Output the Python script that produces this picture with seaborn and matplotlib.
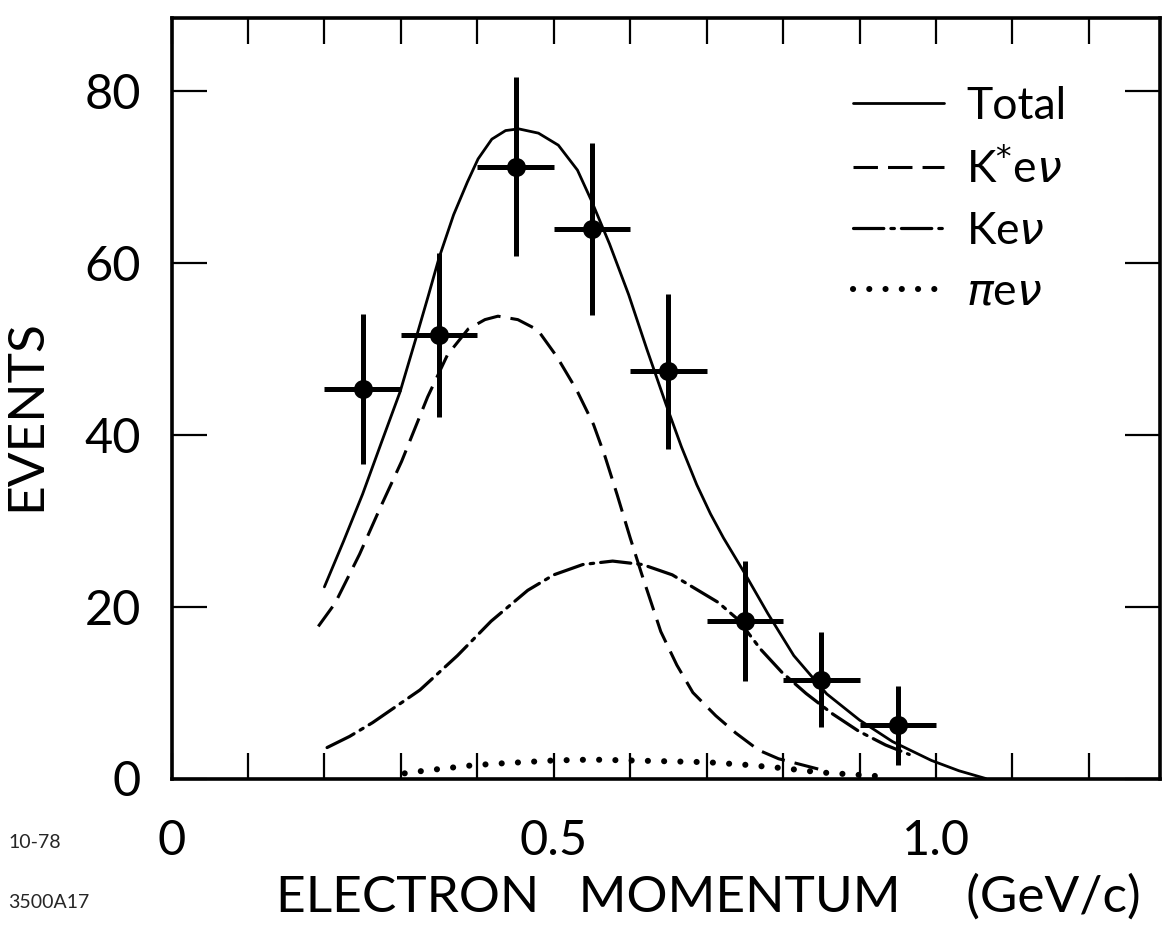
import numpy as np
import pandas as pd
import matplotlib
matplotlib.use("Agg")
import matplotlib.pyplot as plt
import seaborn as sns

# Measured electron momentum spectrum (bin centres, counts, errors)
p_centres = [0.25, 0.35, 0.45, 0.55, 0.65, 0.75, 0.85, 0.95]
events = [45.3, 51.6, 71.2, 63.9, 47.4, 18.3, 11.5, 6.2]
events_err = [8.7, 9.5, 10.4, 10.0, 9.0, 7.0, 5.5, 4.6]
bin_half_width = [0.05] * 8

# Fitted components
total_p = [0.20, 0.225, 0.25, 0.275, 0.299, 0.32, 0.336, 0.35, 0.369, 0.387,
           0.401, 0.419, 0.437, 0.454, 0.48, 0.506, 0.531, 0.549, 0.573, 0.598,
           0.622, 0.647, 0.667, 0.687, 0.705, 0.722, 0.749, 0.780, 0.814, 0.857,
           0.90, 0.943, 0.994, 1.03, 1.065]
total_n = [22.3, 27.6, 33.1, 39.2, 45.0, 51.3, 56.2, 60.6, 65.6, 69.4,
           72.1, 74.4, 75.4, 75.6, 75.1, 73.7, 70.8, 67.3, 62.2, 56.3,
           49.9, 43.5, 38.6, 34.2, 30.8, 28.0, 24.0, 19.2, 14.3, 9.85,
           6.8, 4.3, 2.1, 0.9, 0.0]

kstar_p = [0.192, 0.214, 0.246, 0.273, 0.301, 0.335, 0.361, 0.388, 0.41, 0.427,
           0.453, 0.479, 0.504, 0.530, 0.552, 0.567, 0.583, 0.60, 0.615, 0.640,
           0.661, 0.682, 0.712, 0.738, 0.768, 0.794, 0.846]
kstar_n = [17.7, 20.4, 26.1, 31.5, 36.9, 44.4, 49.3, 52.3, 53.4, 53.8,
           53.4, 52.2, 49.1, 45.2, 41.2, 37.5, 33.0, 28.0, 23.8, 17.1,
           13.2, 10.0, 7.3, 5.3, 3.3, 2.3, 1.1]

k_p = [0.2035, 0.233, 0.263, 0.325, 0.374, 0.418, 0.466, 0.50, 0.538, 0.577,
       0.616, 0.655, 0.685, 0.715, 0.741, 0.771, 0.798, 0.830, 0.865, 0.899,
       0.934, 0.965]
k_n = [3.6, 4.9, 6.5, 10.3, 14.3, 18.3, 21.9, 23.7, 24.9, 25.3,
       24.9, 23.7, 22.1, 20.5, 18.5, 15.0, 12.4, 9.9, 7.5, 5.5,
       3.9, 2.8]

pi_p = [0.305, 0.33, 0.36, 0.39, 0.42, 0.46, 0.50, 0.55, 0.60, 0.65, 0.70,
        0.75, 0.80, 0.85, 0.92]
pi_n = [0.6, 0.9, 1.2, 1.5, 1.7, 1.9, 2.1, 2.2, 2.1, 2.0, 1.9,
        1.6, 1.2, 0.7, 0.3]

x_tick_values = [round(0.1 * i, 1) for i in range(13)]
x_tick_text = {0.0: "0", 0.5: "0.5", 1.0: "1.0"}
y_tick_values = [0, 20, 40, 60, 80]

sns.set_theme(style="ticks")
plt.rcParams["font.family"] = ["Lato", "DejaVu Sans"]
plt.rcParams["font.weight"] = "normal"
plt.rcParams["mathtext.fontset"] = "dejavusans"

W, H = 1165, 927
fig = plt.figure(figsize=(W / 100, H / 100), dpi=100, facecolor="white")
left, right, top, bottom = 171.5, 1160.0, 18.0, 778.5
ax = fig.add_axes([left / W, 1 - bottom / H, (right - left) / W, (bottom - top) / H])
ax.set_facecolor("white")

components = [
    (total_p, total_n, "Total", dict(lw=2.0, linestyle="-")),
    (kstar_p, kstar_n, r"K$^{*}$e$\nu$", dict(lw=2.2, linestyle=(0, (8, 3.3)))),
    (k_p, k_n, r"Ke$\nu$", dict(lw=2.3, linestyle=(0, (9.5, 2.2, 1.1, 2.2)),
                                dash_capstyle="round")),
    (pi_p, pi_n, r"$\pi$e$\nu$", dict(lw=4.4, linestyle=(0, (0.01, 2.65)),
                                       dash_capstyle="round")),
]
for xs, ys, name, style in components:
    df = pd.DataFrame({"p": xs, "n": ys})
    sns.lineplot(data=df, x="p", y="n", ax=ax, color="black", label=name,
                 sort=False, errorbar=None, **style)

data = pd.DataFrame({"p": p_centres, "n": events})
ax.errorbar(p_centres, events, yerr=events_err, xerr=bin_half_width, fmt="none",
            ecolor="black", elinewidth=3.6, capsize=0, zorder=4)
sns.scatterplot(data=data, x="p", y="n", ax=ax, color="black", s=190,
                edgecolor="black", linewidth=0, zorder=5, legend=False)

ax.set_xlim(0, 1.293)
ax.set_ylim(0, 88.5)
ax.set_xticks(x_tick_values)
ax.set_xticklabels([x_tick_text.get(v, "") for v in x_tick_values])
ax.set_yticks(y_tick_values)
ax.set_yticklabels([str(v) for v in y_tick_values])
ax.tick_params(axis="x", direction="in", length=19, width=1.6, top=True,
               labelsize=35, pad=29, colors="black")
ax.tick_params(axis="y", direction="in", length=25, width=1.6, right=True,
               labelsize=35, pad=22, colors="black")
for s in ax.spines.values():
    s.set_linewidth(2.6)
    s.set_color("black")

ax.set_xlabel("ELECTRON   MOMENTUM     (GeV/c)", fontsize=37, color="black")
ax.xaxis.set_label_coords(0.543, -0.125)
ax.set_ylabel("EVENTS", fontsize=37, color="black")
ax.yaxis.set_label_coords(-0.124, 0.478)

leg = ax.legend(loc="upper left", bbox_to_anchor=(853 / W, 1 - 86 / H),
                bbox_transform=fig.transFigure, frameon=False, fontsize=32,
                handlelength=2.05, handletextpad=0.5, labelspacing=0.45,
                borderpad=0, borderaxespad=0)
for t in leg.get_texts():
    t.set_color("black")

fig.text(8 / W, 1 - 843 / H, "10-78", fontsize=14, va="center", ha="left")
fig.text(8 / W, 1 - 902 / H, "3500A17", fontsize=14, va="center", ha="left")

fig.savefig("out.png", dpi=100, facecolor="white")
